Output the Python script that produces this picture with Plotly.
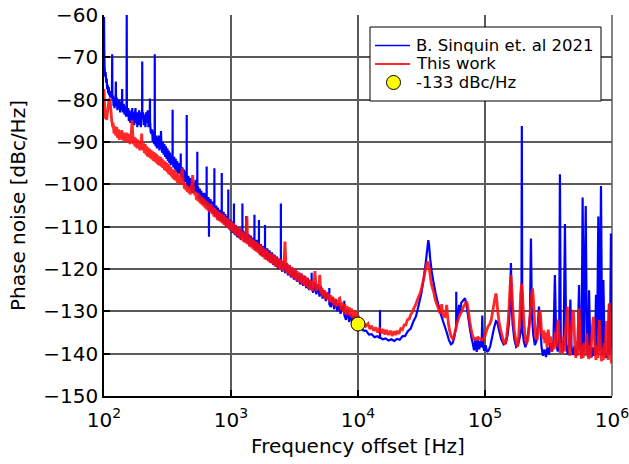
import plotly.graph_objects as go

# ---- Data (frequency in Hz, phase noise in dBc/Hz) ----
blue_pts = [
    (100, -60.5), (100.5, -68), (101, -72), (102, -74.5), (103, -73.5), (104, -76), (105, -75),
    (106, -77.5), (107, -76.5), (108, -78.5), (109, -77), (110, -79), (111, -78), (112, -79.5),
    (113, -78.5), (115.5, -79.5), (116, -69.3), (116.5, -80), (118, -79), (119, -81.5), (120, -79.5),
    (121, -82), (122, -80.5), (123.5, -79.5), (124, -75.7), (124.5, -81.5), (126, -79.5), (127.5, -82.5),
    (129, -80), (130.5, -82), (132, -80), (134, -83), (135.5, -80.5), (137, -82.5), (138.5, -80.5),
    (139, -77.5), (139.5, -81.5), (141, -83), (143, -81), (145, -83.5), (147, -81.5), (149, -84),
    (150.5, -82), (151, -60), (151.5, -82.5), (153, -84), (155, -82), (157, -85), (159, -82.5),
    (161, -85.5), (163, -83), (165, -85), (167, -82), (169, -85.5), (171, -83), (173, -86),
    (175, -83.5), (177, -82), (179, -85.5), (181, -83), (183, -86.5), (185, -83.5), (187, -86),
    (189, -82.5), (191, -85.5), (193, -83.5), (195, -86.5), (197, -83), (199.5, -84), (200, -71),
    (200.5, -84.5), (203, -83), (206, -86), (209, -83.5), (212, -86.5), (215, -83), (218, -85.5),
    (221, -82.5), (224, -86.5), (227, -84), (229.5, -83), (230, -79.7), (230.5, -85), (233, -87.5),
    (236, -88), (239, -87), (242, -90), (245, -87.5), (248, -90.5), (250.5, -88.5), (251, -69.3),
    (251.5, -89), (255, -91), (258, -88.5), (261, -91.5), (264, -89), (267, -91), (270, -88.5),
    (273, -92), (276, -89.5), (279, -91.5), (281, -87.4), (283, -90.5), (287, -92.5), (291, -90),
    (295, -93), (299, -90.5), (303, -93.5), (307, -91), (311, -94), (315, -91.5), (319, -94.5),
    (323, -92), (327, -95), (331, -92.5), (335, -95.5), (339, -93), (343, -95), (346.5, -93.5),
    (347, -82.4), (347.5, -94), (352, -96), (357, -93.5), (362, -96.5), (367, -94), (372, -97),
    (377, -94.5), (382, -97.5), (387, -95), (392, -97.5), (397, -95.5), (401.5, -96.5), (402, -92.7),
    (402.5, -97), (408, -98.5), (414, -96), (420, -99), (426, -96.5), (432, -99.5), (438, -97),
    (444, -99.5), (447.5, -98), (448, -83.6), (448.5, -99), (455, -100.5), (462, -98), (469, -101),
    (476, -98.5), (483, -101.5), (490, -99), (497, -102), (504, -99.5), (511, -102), (518, -100),
    (527, -99), (535, -102), (542.5, -101), (543, -92.3), (543.5, -102), (551, -100.5), (559, -103.5),
    (567, -101), (575, -104), (583, -101.5), (591, -104.5), (599, -102), (607, -104.5), (615, -102),
    (623, -105), (631, -102.5), (639, -105), (642.5, -103.5), (643, -95.8), (643.5, -104),
    (655, -105.5), (664, -103), (670.5, -104.5), (671, -112.4), (671.5, -104), (680, -106),
    (690, -103.5), (700, -106.5), (710, -104), (720, -107), (730, -104.5), (739.5, -105.5), (740, -96.2),
    (740.5, -106), (752, -107.5), (764, -105), (776, -108), (788, -105.5), (800, -108.5), (812, -106),
    (824, -108.5), (836, -106.5), (845.5, -106.5), (846, -97.3), (846.5, -107.5), (860, -109),
    (874, -106.5), (888, -109.5), (902, -107), (916, -110), (930, -107.5), (951.5, -108.5),
    (952, -101.2), (952.5, -109), (965, -110.6), (980, -108.2), (995, -111.0), (1010, -108.7),
    (1025, -111.5), (1040, -109.2), (1054.5, -110), (1055, -104.5), (1055.5, -110.8), (1075, -112.0),
    (1095, -109.6), (1115, -112.5), (1135, -110.1), (1155, -112.7), (1175, -110.4), (1195, -113.1),
    (1215, -110.8), (1229.5, -111.5), (1230, -104.5), (1230.5, -112.2), (1250, -110.9), (1275, -113.6),
    (1300, -111.2), (1319.5, -112), (1320, -107.5), (1320.5, -112.8), (1345, -114.0), (1370, -111.7),
    (1400, -114.5), (1430, -112.1), (1460, -114.6), (1490, -112.6), (1515, -115.0), (1529.5, -113.5),
    (1530, -107.2), (1530.5, -114.2), (1560, -115.6), (1590, -113.1), (1625, -115.6), (1645, -113.6),
    (1659.5, -114.5), (1660, -108.4), (1660.5, -115.2), (1690, -116.6), (1720, -114.1), (1755, -117.0),
    (1790, -114.6), (1825, -117.1), (1852.5, -115.5), (1853, -109.6), (1853.5, -116.3), (1890, -117.6),
    (1930, -115.1), (1970, -118.0), (2010, -115.6), (2050, -118.5), (2100, -116.1), (2150, -119.0),
    (2200, -116.6), (2250, -119.5), (2300, -117.1), (2350, -120.0), (2410, -117.6), (2469.5, -118.5),
    (2470, -104.5), (2470.5, -119.3), (2530, -120.6), (2600, -118.1), (2670, -121.0), (2740, -118.6),
    (2810, -121.5), (2890, -119.1), (2970, -122.0), (3050, -119.6), (3130, -122.5), (3220, -120.1),
    (3310, -123.0), (3400, -121.0), (3500, -123.6), (3600, -121.1), (3700, -124.0), (3800, -121.6),
    (3910, -124.5), (4020, -122.1), (4130, -125.0), (4240, -122.6), (4314.5, -123.5), (4315, -120.9),
    (4315.5, -124.3), (4440, -125.6), (4570, -123.1), (4700, -126.0), (4840, -123.6), (4980, -126.5),
    (5120, -124.1), (5270, -127.0), (5420, -125.0), (5580, -127.6), (5740, -125.6), (5944.5, -127.5),
    (5945, -124.5), (5945.5, -128.3), (6120, -129.0), (6300, -126.6), (6490, -129.5), (6680, -127.1),
    (6880, -130.0), (7080, -128.0), (7290, -130.6), (7500, -128.6), (7799.5, -130), (7800, -127.5),
    (7800.5, -130.8), (8040, -132.0), (8280, -129.6), (8520, -132.5), (8780, -130.6), (9040, -133.0),
    (9310, -131.1), (9590, -133.5), (9880, -132.2), (10200, -133.5), (10500, -133.8), (11000, -134.5),
    (11600, -134.6), (12200, -135.5), (12800, -135.4), (13500, -136.1), (14200, -135.9),
    (14880, -136.3), (14900, -129.7), (14920, -136.2), (15700, -136.6), (16500, -136.4),
    (17400, -136.9), (18300, -136.6), (19300, -137.0), (20300, -136.5), (21300, -136.7),
    (22400, -135.9), (23500, -135.8), (24700, -134.7), (26000, -134.1), (27300, -132.4),
    (28600, -131.2), (30000, -128.6), (31500, -125.8), (33000, -122.0), (34300, -118.0),
    (35200, -115.0), (35800, -113.2), (36300, -114.5), (37000, -117.5), (38000, -120.5),
    (39500, -123.5), (41000, -126.0), (43000, -128.5), (45000, -130.8), (47500, -133.0),
    (50000, -135.0), (52000, -136.8), (54000, -137.8), (55500, -137.5), (57000, -136.5),
    (58500, -134.5), (59300, -134), (59400, -125.4), (59500, -133.5), (61000, -131.5),
    (62500, -128.5), (63500, -130.5), (65000, -128), (67000, -127.5), (69600, -126.9),
    (71500, -128.5), (73500, -131), (76000, -134), (78500, -136.5), (80000, -137.5),
    (82000, -139.2), (84000, -136.5), (86000, -139.6), (88000, -136.8), (90000, -139.0),
    (92000, -137), (94000, -138.5), (95200, -131), (96500, -138), (98500, -139.3), (101000, -138),
    (104000, -139.6), (107000, -139.2), (110000, -138.2), (114000, -136.0), (118000, -133.8),
    (122000, -132.3), (125000, -132.5), (129000, -134.5), (134000, -136.5), (140000, -137.8),
    (146000, -137.5), (151000, -135.5), (155000, -132), (158000, -128), (160000, -118.6),
    (162000, -128), (165000, -133), (170000, -136.5), (176000, -138.4), (182000, -138),
    (188000, -136), (193500, -134), (195000, -86.2), (196500, -134), (202000, -137),
    (208000, -138.5), (214000, -137), (220000, -134.5), (226000, -131), (230000, -112.8),
    (234000, -131), (240000, -135.5), (247000, -138), (254000, -137), (260000, -133.5),
    (266000, -128.9), (272000, -133), (279000, -138.5), (286000, -140.5), (294000, -139),
    (302000, -140.8), (310000, -138.5), (319000, -140.2), (328000, -137.5), (337000, -139.5),
    (346000, -137), (355000, -121.4), (364000, -137.5), (374000, -139.5), (384000, -136),
    (389000, -97.6), (395000, -137), (406000, -139.5), (416000, -138), (426000, -109.4),
    (436000, -137.5), (448000, -140.2), (460000, -137.8), (470000, -127.2), (480000, -138.5),
    (493000, -140.3), (507000, -138.2), (521000, -140.5), (536000, -138.8), (550000, -123.8),
    (562000, -139), (575000, -140.5), (587000, -103.1), (600000, -139.8), (621000, -105.1),
    (635000, -139.5), (648000, -140.8), (660000, -125), (675000, -139.2), (690000, -140.9),
    (705000, -138.5), (720000, -140.5), (735000, -139), (748000, -126.1), (762000, -140.2),
    (780000, -107.6), (800000, -139.5), (819000, -100.4), (837000, -140.5), (855000, -122.6),
    (875000, -139.8), (900000, -141), (925000, -139.5), (946000, -128.3), (963000, -140.2),
    (981000, -111.6), (1000000, -140.5),
]

red_pts = [
    (100, -77.5), (100.5, -79), (101, -81), (102, -83.5), (103, -84.5), (104, -84), (105, -84.8),
    (106, -83.5), (107, -82.5), (108, -81.5), (109, -80.5), (110, -80), (111, -79.8), (112, -80.5),
    (113, -82), (114, -83.5), (115, -85), (116, -85.5), (117, -86.5), (118, -85.5), (120, -88),
    (122, -86.3), (124, -88.5), (126, -86.5), (128, -89), (130, -87), (132, -89.5), (134, -87.5),
    (136, -89), (138, -87.2), (140, -89.5), (142, -87.8), (144, -89.8), (146, -88), (148, -90),
    (150, -87.8), (152, -89.6), (154, -88), (156, -90), (158, -88.2), (160, -90.5), (162, -88.5),
    (164, -88), (165.5, -86), (166.5, -84.8), (167.5, -86.5), (169, -89.5), (171, -90.5), (173, -88.8),
    (175, -91), (177, -89), (179, -91.3), (181, -89.3), (183, -91.5), (185, -89.5), (187, -91.5),
    (189, -89.7), (191, -92), (193, -90), (195, -91.5), (197, -89.5), (198, -88), (199.5, -90),
    (202, -92.0), (205, -90.3), (208, -92.6), (211, -90.5), (214, -93.0), (217, -91.0), (220, -93.4),
    (223, -91.4), (226, -93.6), (229, -91.6), (232, -93.8), (235, -91.9), (238, -94.1), (241, -92.2),
    (244, -94.4), (247, -92.4), (250, -94.6), (253, -92.6), (256, -94.8), (259, -92.9), (262, -95.1),
    (265, -93.2), (268, -95.4), (271, -93.4), (275, -95.6), (279, -93.6), (283, -95.8), (287, -93.9),
    (291, -96.1), (295, -94.4), (299, -96.6), (303, -94.6), (307, -96.8), (311, -94.9), (315, -97.1),
    (319, -95.2), (323, -97.6), (327, -95.6), (331, -97.8), (335, -95.9), (339, -98.1), (343, -96.4),
    (348, -98.6), (353, -96.6), (358, -98.9), (363, -96.9), (368, -99.1), (373, -97.4), (378, -99.6),
    (383, -97.6), (388, -99.8), (393, -97.9), (398, -100.1), (403, -98.2), (408, -97.5), (412, -96.5),
    (414, -96.2), (416, -97.5), (420, -100.1), (425, -99.4), (430, -101.0), (436, -99.8),
    (442, -101.4), (448, -100.2), (454, -101.8), (460, -100.4), (466, -102.1), (472, -100.8),
    (478, -102.4), (484, -101.0), (490, -100.5), (495, -99), (499, -97.8), (503, -99.5),
    (508, -102.2), (514, -101.6), (520, -102.6), (527, -101.8), (534, -103.6), (541, -102.0),
    (548, -103.9), (555, -102.2), (562, -104.2), (570, -102.6), (578, -104.6), (586, -103.0),
    (594, -104.9), (602, -103.2), (610, -105.2), (618, -103.6), (626, -105.6), (634, -103.9),
    (642, -105.9), (650, -104.2), (660, -106.2), (670, -104.6), (680, -106.6), (690, -104.9),
    (700, -105.0), (710, -107.0), (720, -105.3), (732, -107.6), (744, -105.6), (756, -107.8),
    (768, -106.0), (780, -108.4), (792, -106.4), (805, -108.6), (818, -106.6), (831, -108.9),
    (844, -106.9), (857, -109.2), (870, -107.2), (884, -109.6), (898, -107.6), (912, -109.9),
    (926, -107.9), (940, -110.2), (955, -108.2), (970, -110.6), (985, -108.6), (1000, -110.9),
    (1015, -108.9), (1030, -111.2), (1045, -109.2), (1060, -111.6), (1075, -109.6), (1090, -111.9),
    (1105, -109.9), (1120, -112.2), (1136, -110.2), (1152, -112.6), (1168, -110.4), (1184, -112.9),
    (1200, -110.9), (1216, -113.2), (1232, -111.2), (1248, -113.5), (1264, -111.4), (1280, -113.7),
    (1296, -111.6), (1312, -113.9), (1326, -111.5), (1336, -107.6), (1346, -112.0), (1362, -114.2),
    (1380, -112.2), (1400, -114.7), (1420, -112.4), (1440, -114.9), (1460, -112.9), (1480, -115.2),
    (1500, -113.2), (1520, -115.5), (1540, -113.4), (1560, -115.7), (1580, -113.6), (1600, -116.0),
    (1620, -113.9), (1645, -116.2), (1670, -114.2), (1695, -116.7), (1720, -114.4), (1745, -116.9),
    (1770, -114.9), (1795, -117.2), (1820, -115.2), (1850, -117.7), (1880, -115.4), (1910, -117.9),
    (1940, -115.8), (1970, -118.2), (2000, -116.2), (2030, -118.5), (2060, -116.3), (2090, -118.7),
    (2120, -116.5), (2150, -118.9), (2180, -116.8), (2210, -119.2), (2240, -117.1), (2270, -119.5),
    (2300, -117.3), (2340, -119.7), (2380, -117.5), (2420, -119.9), (2460, -117.8), (2500, -120.2),
    (2540, -118.1), (2580, -120.5), (2620, -118.0), (2662, -113.5), (2700, -118.3), (2740, -120.9),
    (2780, -118.8), (2830, -121.2), (2880, -119.1), (2930, -121.7), (2980, -119.5), (3030, -121.9),
    (3080, -119.8), (3140, -122.2), (3200, -120.1), (3260, -122.7), (3320, -120.5), (3380, -122.9),
    (3440, -120.8), (3500, -123.2), (3570, -121.1), (3640, -123.7), (3710, -121.5), (3780, -123.9),
    (3850, -121.8), (3920, -124.2), (3990, -122.1), (4070, -124.7), (4150, -122.5), (4230, -124.9),
    (4310, -122.8), (4390, -125.2), (4480, -123.1), (4540, -122.0), (4580, -120.5), (4620, -122.0),
    (4700, -125.2), (4800, -123.6), (4900, -125.0), (4960, -123.0), (5000, -121.4), (5040, -123.5),
    (5120, -125.9), (5220, -124.5), (5320, -126.5), (5420, -125.0), (5530, -127.0), (5640, -125.4),
    (5750, -127.3), (5860, -125.8), (5980, -127.7), (6100, -126.2), (6220, -128.0), (6340, -126.6),
    (6470, -128.5), (6600, -127.0), (6730, -128.9), (6860, -127.4), (6990, -128.7), (7100, -127.0),
    (7180, -126.9), (7260, -128.0), (7400, -129.7), (7550, -127.9), (7700, -130.2), (7860, -128.3),
    (8020, -130.7), (8180, -128.7), (8350, -130.9), (8520, -129.0), (8700, -131.2), (8880, -129.3),
    (9060, -131.6), (9250, -129.7), (9440, -131.9), (9640, -130.0), (9840, -132.2), (10000, -131.0),
    (10500, -132.9), (11000, -132.6), (11500, -133.5), (12000, -132.9), (12400, -134.2), (12800, -133.4),
    (13300, -134.6), (13800, -133.8), (14300, -135.0), (14800, -133.9), (15300, -135.2), (15800, -134.2),
    (16300, -135.5), (16800, -134.4), (17400, -135.6), (18000, -134.6), (18600, -135.8), (19200, -134.7),
    (19800, -135.6), (20400, -134.6), (21000, -135.3), (21700, -134.1), (22400, -134.3), (23100, -133.2),
    (23800, -133.2), (24500, -132.0), (25300, -131.8), (26000, -130.8), (26800, -130.2), (27600, -129.2),
    (28400, -128.5), (29200, -127.5), (30000, -126.5), (30800, -125.8), (31700, -124.5), (32500, -123),
    (33300, -121.5), (34100, -120), (35000, -118.3), (35600, -118.5), (36300, -119.5),
    (37000, -121.5), (37800, -123.5), (38600, -124.5), (39500, -125.5), (40400, -127),
    (41300, -128), (42300, -128.8), (43200, -129.5), (44200, -130.5), (45000, -129.8),
    (45600, -128.3), (46300, -130), (47200, -131), (48200, -131.5), (49100, -130.5),
    (49900, -128.5), (50700, -131), (51600, -133), (52600, -134.5), (53600, -135.5),
    (54700, -136.2), (55800, -136.5), (57000, -136), (58200, -134.8), (59400, -133.5),
    (60600, -132.5), (61800, -131.8), (63000, -131), (64500, -130.5), (66000, -129.8),
    (67500, -129), (69000, -128.5), (70500, -128), (71800, -127.7), (73000, -128.8),
    (74500, -130.5), (76000, -132.5), (77500, -134), (79000, -135.2), (80500, -136),
    (82000, -136.5), (83500, -136.8), (85000, -136.2), (86500, -136.8), (88000, -136),
    (90000, -136.5), (92000, -136.5), (95000, -136.8), (97000, -136.5), (100000, -135.8),
    (103000, -134.5), (106000, -133.5), (109000, -133), (112000, -132), (115000, -130),
    (118000, -128), (120500, -126.5), (122000, -125.8), (123500, -127), (126000, -130),
    (129000, -132.5), (133000, -134.5), (137000, -136), (141000, -137.5), (144000, -137.8),
    (148000, -136), (152000, -132.5), (155000, -128.5), (158000, -123.5), (160000, -121.4),
    (162500, -124.5), (166000, -130), (170000, -134.5), (175000, -137), (180000, -138.4),
    (184000, -136), (188000, -131), (191000, -126), (194000, -123.5), (197000, -125.5),
    (201000, -131), (206000, -135.5), (212000, -137.8), (218000, -136.5), (224000, -133),
    (229000, -129), (233000, -126), (237000, -124.6), (241000, -127.5), (246000, -133),
    (252000, -136.5), (258000, -136.5), (263000, -133.5), (268000, -130.5), (271000, -129.7),
    (274000, -131), (279000, -135), (285000, -136.5), (290000, -134.5), (296000, -137.5),
    (302000, -135), (308000, -138.5), (315000, -134.3), (322000, -138), (329000, -136),
    (336000, -139.5), (343000, -137), (350000, -139), (357000, -135), (364000, -138.5),
    (371000, -133.5), (378000, -132), (385000, -136.5), (392000, -139.8), (400000, -137.5),
    (408000, -140), (416000, -136), (424000, -139.5), (432000, -134), (440000, -130.5),
    (445000, -128.9), (451000, -132), (458000, -138), (466000, -140.5), (474000, -136.5),
    (482000, -133), (489000, -131), (496000, -129.7), (503000, -133.5), (511000, -138.5),
    (519000, -141), (527000, -137), (535000, -140.5), (542000, -134), (550000, -129.3),
    (558000, -133), (566000, -139), (575000, -141.2), (584000, -138), (593000, -141),
    (602000, -137.5), (611000, -140.5), (620000, -138.5), (632000, -135.2), (644000, -139.5),
    (656000, -141.3), (668000, -138), (680000, -141), (692000, -136.5), (702000, -133.5),
    (713000, -131.3), (724000, -134.5), (736000, -139.5), (748000, -141.5), (760000, -138),
    (772000, -141), (784000, -135.5), (795000, -132), (806000, -136), (818000, -140.5),
    (830000, -141.8), (842000, -138.5), (855000, -141.5), (868000, -137.5), (881000, -140.8),
    (894000, -135.5), (907000, -132.3), (920000, -137.5), (932000, -141.5), (943000, -136),
    (953000, -128.1), (962000, -135), (972000, -141), (981000, -139), (990000, -142.3),
    (1000000, -141.8),
]

marker_freq = [1e4]
marker_pn = [-133]

series_names = ["B. Sinquin et. al 2021", "This work", "-133 dBc/Hz"]
y_ticks = [-150, -140, -130, -120, -110, -100, -90, -80, -70, -60]
x_ticks = [1e2, 1e3, 1e4, 1e5, 1e6]
x_ticktext = ["10<sup>2</sup>", "10<sup>3</sup>", "10<sup>4</sup>", "10<sup>5</sup>", "10<sup>6</sup>"]

freq_blue = [p[0] for p in blue_pts]
pn_blue = [p[1] for p in blue_pts]
freq_red = [p[0] for p in red_pts]
pn_red = [p[1] for p in red_pts]

FONT = "DejaVu Sans"
BLUE = "#0000ff"
RED = "rgba(255,15,15,0.9)"
GRID = "#5a5a5a"

fig = go.Figure()
fig.add_trace(go.Scatter(
    x=freq_blue, y=pn_blue, mode="lines", name=series_names[0],
    line=dict(color=BLUE, width=2.2, simplify=False),
))
fig.add_trace(go.Scatter(
    x=freq_red, y=pn_red, mode="lines", name=series_names[1],
    line=dict(color=RED, width=2.8, simplify=False),
))
fig.add_trace(go.Scatter(
    x=marker_freq, y=marker_pn, mode="markers", name=series_names[2],
    marker=dict(color="#ffff00", size=14, line=dict(color="black", width=1)),
))

axis_common = dict(
    showline=True, linecolor="black", linewidth=1.5, mirror=False,
    ticks="inside", ticklen=6, tickwidth=1.5, tickcolor="black",
    showgrid=True, gridcolor=GRID, gridwidth=1.5, zeroline=False,
    automargin=False, ticklabeloverflow="allow",
    tickfont=dict(family=FONT, size=20, color="black"),
    title_font=dict(family=FONT, size=20, color="black"),
)

# ---- Legend box drawn in paper coordinates (plot area: x 104..612 px, y 15..396 px) ----
def px_x(px):
    return (px - 104) / 508.0

def px_y(py):
    return (396 - py) / 381.0

shapes = [
    dict(type="line", xref="paper", yref="paper", x0=1, x1=1, y0=0, y1=1,
         line=dict(color=GRID, width=1.5), layer="below"),
    dict(type="rect", xref="paper", yref="paper",
         x0=px_x(370), x1=px_x(601), y0=px_y(101), y1=px_y(27),
         line=dict(color="black", width=1), fillcolor="white", layer="above"),
    dict(type="line", xref="paper", yref="paper",
         x0=px_x(375), x1=px_x(410), y0=px_y(45.5), y1=px_y(45.5),
         line=dict(color=BLUE, width=1.6), layer="above"),
    dict(type="line", xref="paper", yref="paper",
         x0=px_x(375), x1=px_x(410), y0=px_y(64), y1=px_y(64),
         line=dict(color=RED, width=2.2), layer="above"),
    dict(type="circle", xref="paper", yref="paper", xsizemode="pixel", ysizemode="pixel",
         xanchor=px_x(393.5), yanchor=px_y(82.5), x0=-7, x1=7, y0=-7, y1=7,
         line=dict(color="black", width=1), fillcolor="#ffff00", layer="above"),
]

annotations = [
    dict(text=name, xref="paper", yref="paper", x=px_x(414), y=px_y(yy),
         xanchor="left", yanchor="middle", showarrow=False,
         font=dict(family=FONT, size=16.5, color="black"))
    for name, yy in zip(series_names, [45.5, 64, 82.5])
]

fig.update_layout(
    width=629, height=464,
    margin=dict(l=104, r=17, t=15, b=68, autoexpand=False),
    paper_bgcolor="white", plot_bgcolor="white",
    font=dict(family=FONT, color="black"),
    showlegend=False,
    shapes=shapes,
    annotations=annotations,
    xaxis=dict(
        type="log", range=[2, 6], tickvals=x_ticks, ticktext=x_ticktext,
        ticklabelstandoff=5,
        title=dict(text="Frequency offset [Hz]", standoff=8),
        **axis_common,
    ),
    yaxis=dict(
        range=[-150, -60], tickvals=y_ticks,
        title=dict(text="Phase noise [dBc/Hz]", standoff=12),
        **axis_common,
    ),
)

fig.write_html("out.html")
